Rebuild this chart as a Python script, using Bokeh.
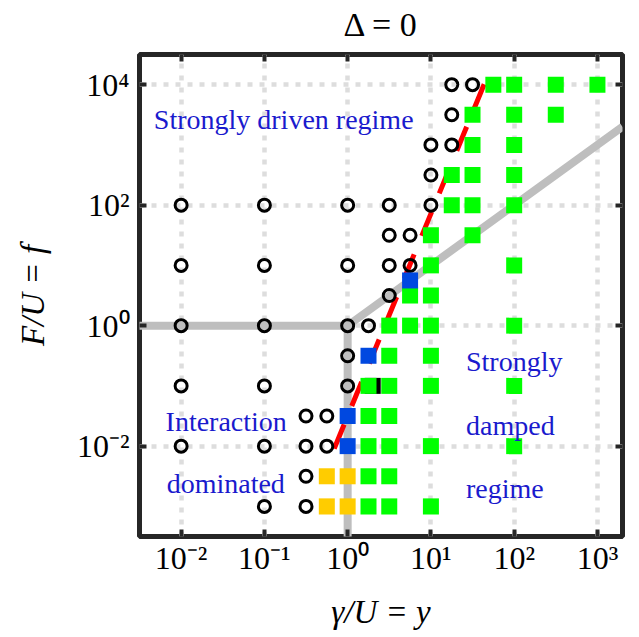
from bokeh.plotting import figure
from bokeh.models import LogAxis, FixedTicker, CustomJSTickFormatter, Label, Range1d
from bokeh.embed import file_html
from bokeh.resources import INLINE

# ---------------- data ----------------
title_text = "Δ = 0"
x_ticks = [0.01, 0.1, 1, 10, 100, 1000]
x_tick_labels = ["10⁻²", "10⁻¹", "10⁰", "10¹", "10²", "10³"]
y_ticks = [0.01, 1, 100, 10000]
y_tick_labels = ["10⁻²", "10⁰", "10²", "10⁴"]

# open circles (gamma/U, F/U)
circle_y = [17.8, 31.6, 17.8, 10, 17.8, 10,
            0.01, 0.1, 1, 3.16, 10,
            3.16, 5.62,
            0.01, 0.1, 1, 3.16, 5.62,
            3.16,
            0.01, 0.1, 1, 1.78,
            1,
            0.01, 0.1, 1,
            0.316, 0.562,
            0.01, 0.1, 0.316, 0.562,
            0.316,
            0.1, 0.316]
circle_f = [10000, 10000, 3162, 1000, 1000, 316,
            100, 100, 100, 100, 100,
            31.6, 31.6,
            10, 10, 10, 10, 10,
            3.16,
            1, 1, 1, 1,
            0.316,
            0.1, 0.1, 0.1,
            0.0316, 0.0316,
            0.01, 0.01, 0.01, 0.01,
            0.00316,
            0.001, 0.001]

# green squares
green_y = [56.2, 100, 316, 1000,
           31.6, 100, 316,
           31.6, 100,
           17.8, 31.6, 100,
           17.8, 31.6, 100,
           10, 31.6,
           10, 100,
           5.62, 10,
           3.16, 5.62, 10, 100,
           3.16, 10,
           1.78, 3.16, 10, 100,
           1.78, 3.16,
           1.78, 3.16, 10, 100,
           1.78, 3.16,
           1.78, 3.16, 10]
green_f = [10000, 10000, 10000, 10000,
           3162, 3162, 3162,
           1000, 1000,
           316, 316, 316,
           100, 100, 100,
           31.6, 31.6,
           10, 10,
           3.16, 3.16,
           1, 1, 1, 1,
           0.316, 0.316,
           0.1, 0.1, 0.1, 0.1,
           0.0316, 0.0316,
           0.01, 0.01, 0.01, 0.01,
           0.00316, 0.00316,
           0.001, 0.001, 0.001]

# blue squares
blue_y = [1, 1, 1.78, 5.62]
blue_f = [0.01, 0.0316, 0.316, 5.62]

# orange squares
orange_y = [0.562, 1, 0.562, 1]
orange_f = [0.00316, 0.00316, 0.001, 0.001]

# black square (mostly hidden)
black_y = [2.0]
black_f = [0.1]

# grey crossover lines
cross_y = [0.003, 1, 2000]
cross_f = [1, 1, 2000]
vert_y = [1, 1]
vert_f = [1, 0.0003]

# red dashed boundary
red_y = [0.69, 48]
red_f = [0.0091, 14000]

# annotations
notes = ["Strongly driven regime", "Interaction", "dominated", "Strongly", "damped", "regime"]

# ---------------- figure ----------------
FONT = "Liberation Serif"
DARK = "#262626"
TXT_BLUE = "#1A1ACD"

p = figure(x_axis_type="log", y_axis_type="log",
           x_range=Range1d(10 ** -2.5, 2000), y_range=Range1d(10 ** -3.5, 10 ** 4.5),
           frame_width=483, frame_height=482,
           min_border_left=139, min_border_right=12, min_border_top=54, min_border_bottom=95,
           output_backend="svg", toolbar_location=None)

p.background_fill_color = "white"
p.border_fill_color = "white"
p.outline_line_color = DARK
p.outline_line_width = 5

fmt_code = """
let best = 0;
for (let i = 0; i < vals.length; i++) {
  if (Math.abs(Math.log10(vals[i]) - Math.log10(tick)) < Math.abs(Math.log10(vals[best]) - Math.log10(tick))) best = i;
}
return labels[best];
"""

def style_axis(ax, ticks, labels=None):
    ax.ticker = FixedTicker(ticks=ticks)
    ax.axis_line_color = None
    ax.major_tick_in = 7
    ax.major_tick_out = 0
    ax.major_tick_line_width = 4
    ax.major_tick_line_color = DARK
    ax.minor_tick_line_color = None
    if labels is not None:
        ax.formatter = CustomJSTickFormatter(args=dict(vals=ticks, labels=labels), code=fmt_code)
        ax.major_label_text_font = FONT
        ax.major_label_text_font_size = "32px"
        ax.major_label_text_color = "black"
    else:
        ax.formatter = CustomJSTickFormatter(code="return '';")
        ax.major_label_text_font_size = "1px"
        ax.major_label_standoff = 0

style_axis(p.xaxis[0], x_ticks, x_tick_labels)
style_axis(p.yaxis[0], y_ticks, y_tick_labels)
p.xaxis.major_label_standoff = 3
p.yaxis.major_label_standoff = 10

p.xaxis.axis_label = "γ/U = y"
p.yaxis.axis_label = "F/U = f"
for ax in (p.xaxis[0], p.yaxis[0]):
    ax.axis_label_text_font = FONT
    ax.axis_label_text_font_style = "italic"
    ax.axis_label_text_font_size = "33px"
    ax.axis_label_text_color = "black"
p.xaxis.axis_label_standoff = 15
p.yaxis.axis_label_standoff = 23

# top axis: carries the inward ticks and the title
top_ax = LogAxis()
style_axis(top_ax, x_ticks)
top_ax.axis_label = title_text
top_ax.axis_label_text_font = FONT
top_ax.axis_label_text_font_style = "normal"
top_ax.axis_label_text_font_size = "34px"
top_ax.axis_label_text_color = "black"
top_ax.axis_label_standoff = 12
p.add_layout(top_ax, "above")

right_ax = LogAxis()
style_axis(right_ax, y_ticks)
p.add_layout(right_ax, "right")

p.xgrid.ticker = FixedTicker(ticks=x_ticks)
p.ygrid.ticker = FixedTicker(ticks=y_ticks)
for g in (p.xgrid[0], p.ygrid[0]):
    g.grid_line_color = "#DDDDDD"
    g.grid_line_width = 4.5
    g.grid_line_dash = "5 7"

# grey lines
p.line(cross_y, cross_f, line_color="#BEBEBE", line_width=8)
p.line(vert_y, vert_f, line_color="#BEBEBE", line_width=8)

# red dashed line
p.line(red_y, red_f, line_color="#FF0000", line_width=5, line_dash="26 20")

# markers
p.scatter(black_y, black_f, marker="square", size=16, fill_color="black", line_color=None)
p.scatter(circle_y, circle_f, marker="circle", size=12, line_width=3, line_color="black", fill_color=None)
p.scatter(green_y, green_f, marker="square", size=16, fill_color="#00FF00", line_color=None)
p.scatter(blue_y, blue_f, marker="square", size=16, fill_color="#0048E0", line_color=None)
p.scatter(orange_y, orange_f, marker="square", size=16, fill_color="#FFCC00", line_color=None)

# annotations
note_pos = [(0.0047, 2630), (0.0065, 0.0253), (0.0067, 0.0024), (26.4, 0.25), (26.4, 0.0223), (26.4, 0.002)]
for t, (xx, yy) in zip(notes, note_pos):
    p.add_layout(Label(x=xx, y=yy, text=t, text_font=FONT, text_font_size="28px",
                       text_color=TXT_BLUE, text_align="left", text_baseline="alphabetic"))

open("out.html", "w").write(file_html(p, INLINE))
